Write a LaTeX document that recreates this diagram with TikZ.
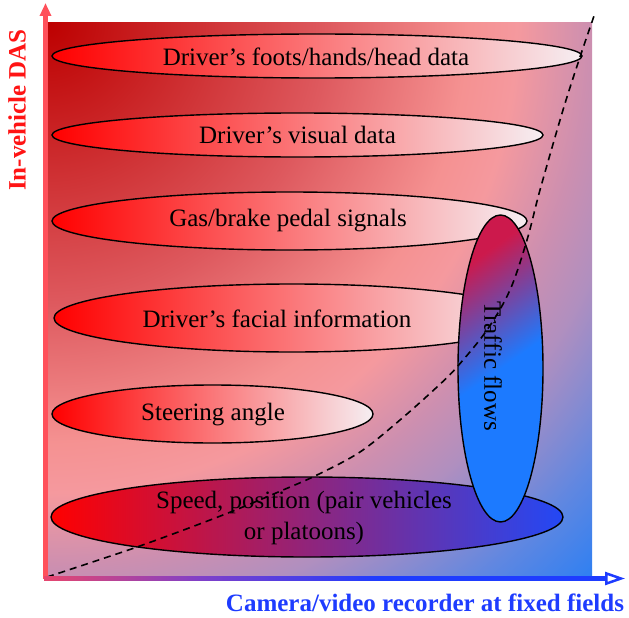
\documentclass[tikz,border=0pt]{standalone}
\usepackage{fontspec}
\setmainfont{Liberation Serif}
\usetikzlibrary{shapes.geometric,arrows.meta}
\pgfdeclareradialshading{bgrad}{\pgfpoint{0bp}{0bp}}{%
  rgb(0bp)=(0.74,0,0);
  rgb(8.75bp)=(0.87,0.35,0.37);
  rgb(13.1bp)=(0.96,0.57,0.57);
  rgb(14.7bp)=(0.96,0.6,0.62);
  rgb(17bp)=(0.80,0.56,0.69);
  rgb(18.75bp)=(0.69,0.56,0.75);
  rgb(21.9bp)=(0.38,0.53,0.88);
  rgb(24.3bp)=(0.18,0.5,0.95);
  rgb(50bp)=(0.18,0.5,0.95)}
\pgfdeclareverticalshading{trafficshade}{100bp}{%
  rgb(0bp)=(0.11,0.48,1);
  rgb(50bp)=(0.11,0.48,1);
  rgb(62bp)=(0.45,0.28,0.65);
  rgb(74bp)=(0.80,0.1,0.3);
  rgb(100bp)=(0.80,0.1,0.3)}
\definecolor{ewhite}{RGB}{246,238,242}
\definecolor{axred}{RGB}{255,80,90}
\definecolor{labred}{RGB}{255,20,20}
\definecolor{axblue}{RGB}{30,60,255}
\definecolor{axpink}{RGB}{230,70,110}
\definecolor{axpurple}{RGB}{128,64,200}
\definecolor{spurple}{RGB}{128,42,150}
\definecolor{sblue}{RGB}{35,72,245}
\tikzset{
  blob/.style={ellipse, draw=black, line width=1.4pt, inner sep=0pt},
  redblob/.style={blob, left color=red, right color=ewhite},
  lab/.style={font=\fontsize{25}{31}\selectfont, text=black, inner sep=0pt},
  axlab/.style={font=\fontsize{25}{30}\selectfont\bfseries, inner sep=0pt},
}
\begin{document}
\begin{tikzpicture}[x=1pt,y=-1pt]
\useasboundingbox (0,0) rectangle (629,618);
% background
\begin{scope}
\clip (47,23) rectangle (592,578);
\shade[shading=bgrad] (47,23) circle[radius=800pt];
\end{scope}
% ellipses
\node[redblob, minimum width=530pt, minimum height=44pt] (e1) at (317,56) {};
\node[lab] (t1) at (316,57) {Driver’s foots/hands/head data};
\node[redblob, minimum width=491pt, minimum height=44pt] (e2) at (297.5,135) {};
\node[lab] (t2) at (297.5,135) {Driver’s visual data};
\node[redblob, minimum width=475pt, minimum height=58pt] (e3) at (289.5,221) {};
\node[lab] (t3) at (288,221) {Gas/brake pedal signals};
\node[redblob, minimum width=476pt, minimum height=68pt] (e4) at (292,318) {};
\node[lab] (t4) at (277,319) {Driver’s facial information};
\node[redblob, minimum width=321pt, minimum height=58pt] (e5) at (212.5,414) {};
\node[lab] (t5) at (213,415) {Steering angle};
\node[blob, left color=red, middle color=spurple, right color=sblue, minimum width=512pt, minimum height=80pt] (e6) at (307,517) {};
\node[lab, align=center] (t6) at (304,518) {Speed, position (pair vehicles\\or platoons)};
% traffic flows
\node[blob, shading=trafficshade, shading angle=35, minimum width=85pt, minimum height=307pt] (e7) at (500.5,368.5) {};
\node[lab, rotate=-90] (t7) at (493,366) {Traffic flows};
% dashed curve
\coordinate (c0) at (47,577);
\coordinate (c1) at (594,16);
\draw[black, line width=1.6pt, dash pattern=on 7pt off 5pt]
  plot[smooth, tension=0.55] coordinates {(47,577) (137,547) (223,515) (283,490) (317,475) (360,452) (400,420) (437,387) (457,367) (487,330) (510,290) (527,240) (540,190) (563,110) (580,57) (594,16)};
% axes
\coordinate (O) at (45.5,578.5);
\coordinate (Y) at (45.5,3);
\coordinate (X) at (625,578.5);
\draw[axred, line width=4.5pt, -{Triangle[length=13pt, width=11pt]}] (O) -- (Y);
\draw[axblue, line width=4.5pt, -{Triangle[open, length=20pt, width=13pt, line width=2.5pt]}] (O) -- (X);
\fill[left color=axpink, right color=axpurple] (44,576.25) rectangle (200,580.75);
\fill[left color=axpurple, right color=axblue] (199.5,576.25) rectangle (380,580.75);
\node[axlab, text=labred, rotate=90] (ly) at (17,110) {In-vehicle DAS};
\node[axlab, text=axblue] (lx) at (425,603) {Camera/video recorder at fixed fields};
\end{tikzpicture}
\end{document}
